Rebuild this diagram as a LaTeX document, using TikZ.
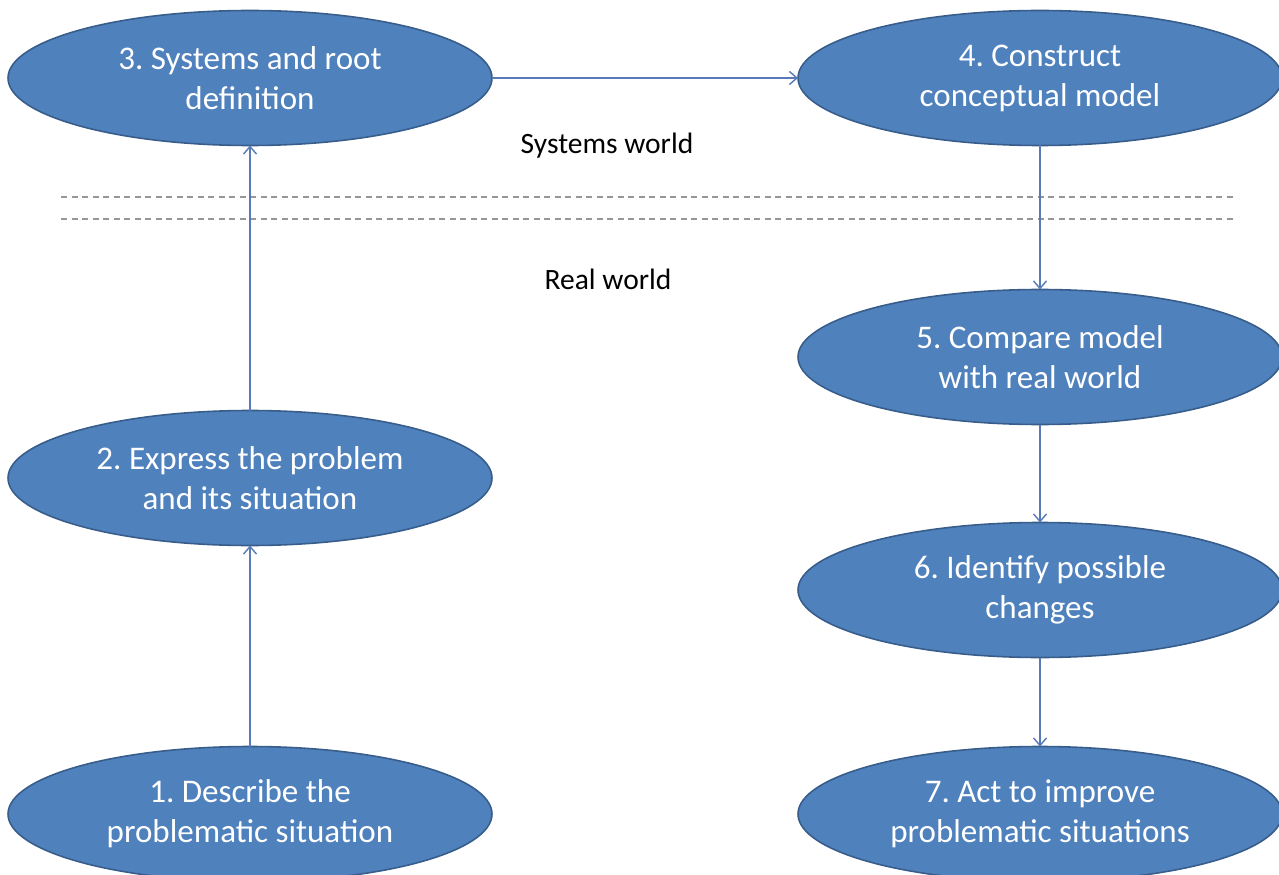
\documentclass[tikz,border=0pt]{standalone}
\usepackage{fontspec}
\setmainfont{Carlito}
\frenchspacing
\usetikzlibrary{positioning}
\usetikzlibrary{shapes.geometric}
\usetikzlibrary{arrows.meta}

\definecolor{stagefill}{RGB}{79,129,189}
\definecolor{stageline}{RGB}{56,93,138}
\definecolor{flowline}{RGB}{88,122,184}
\definecolor{worldline}{RGB}{150,150,150}

\begin{document}
\begin{tikzpicture}[
            >={Straight Barb[length=1.5mm,width=2.6mm]},
            stage/.style={draw=stageline, fill=stagefill, ellipse, line width=0.9pt, minimum width=9.68cm, minimum height=2.7cm, inner sep=0pt, outer sep=0pt, align=center, text=white, font=\fontsize{18.8}{22.7}\selectfont},
            flow/.style={->, draw=flowline, line width=0.8pt},
            world/.style={font=\fontsize{16.8}{20}\selectfont},
            divider/.style={draw=worldline, line width=0.6pt, dash pattern=on 1.2mm off 0.9mm}
        ]
            \useasboundingbox (0,0) rectangle (25.58,17.48);

            % Left column
            \node[stage] (describe) at (5.0,1.2) {1. Describe the\\problematic situation};
            \node[stage, above=4.02cm of describe] (express) {2. Express the problem\\and its situation};
            \node[stage, above=5.3cm of express] (rootdef) {3. Systems and root\\definition};

            % Right column
            \node[stage, right=6.12cm of rootdef] (model) {4. Construct\\conceptual model};
            \node[stage, below=2.88cm of model] (compare) {5. Compare model\\with real world};
            \node[stage, below=1.96cm of compare] (changes) {6. Identify possible\\changes};
            \node[stage, below=1.78cm of changes] (act) {7. Act to improve\\problematic situations};

            % Worlds
            \node[world] (sysworld) at (12.14,14.56) {Systems world};
            \node[world] (realworld) at (12.16,11.9) {Real world};
            \draw[divider] (1.22,13.54) -- (24.66,13.54);
            \draw[divider] (1.22,13.1) -- (24.66,13.1);

            \draw[flow] (describe) -- (express);
            \draw[flow] (express) -- (rootdef);
            \draw[flow] (rootdef) -- (model);
            \draw[flow] (model) -- (compare);
            \draw[flow] (compare) -- (changes);
            \draw[flow] (changes) -- (act);
        \end{tikzpicture}
\end{document}
